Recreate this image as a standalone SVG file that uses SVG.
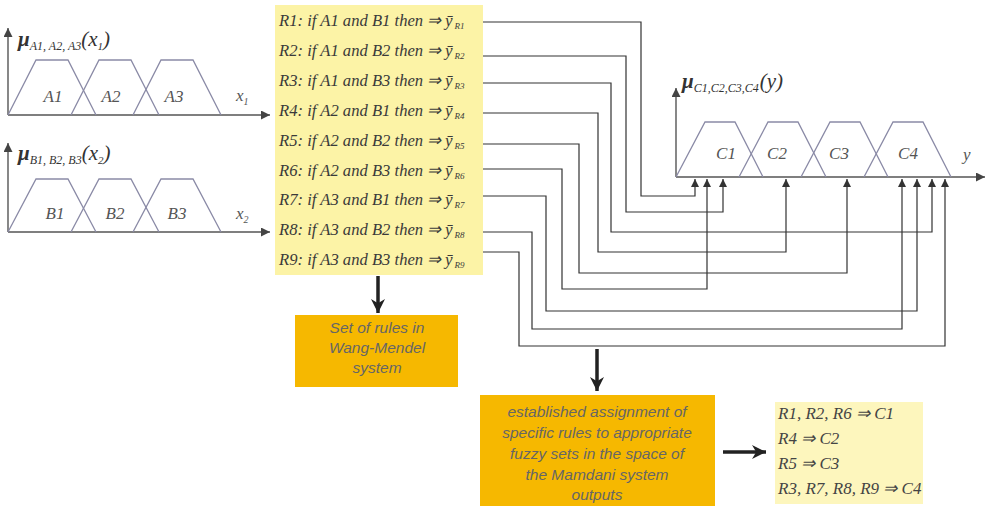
<svg xmlns="http://www.w3.org/2000/svg" width="987" height="506" viewBox="0 0 987 506">
<defs>
<style>
.ax{stroke:#555;stroke-width:1.4;fill:none}
.tr{stroke:#8a8aa6;stroke-width:1.3;fill:none}
.lbl{font-family:"Liberation Serif",serif;font-style:italic;font-size:17px;fill:#555}
.rule{font-family:"Liberation Serif",serif;font-style:italic;font-size:17px;fill:#3a3a3a}
.sub{font-size:9px}
.con{stroke:#333;stroke-width:1.2;fill:none}
.box{font-family:"Liberation Sans",Arial,sans-serif;font-style:italic;font-size:15.5px;fill:#666;text-anchor:middle}
.res{font-family:"Liberation Serif",serif;font-style:italic;font-size:17px;fill:#444}
.big{stroke:#222;stroke-width:3.5;fill:none}
.ttl{font-family:"Liberation Serif",serif;font-style:italic;fill:#333}
</style>
<marker id="ah" viewBox="0 0 10 10" refX="10" refY="5" markerWidth="8" markerHeight="8" markerUnits="userSpaceOnUse" orient="auto">
<path d="M0,0 L10,5 L0,10 z" fill="#333"/>
</marker>
<marker id="axh" viewBox="0 0 10 10" refX="10" refY="5" markerWidth="11" markerHeight="9" markerUnits="userSpaceOnUse" orient="auto">
<path d="M0,0 L10,5 L0,10 z" fill="#444"/>
</marker>
<marker id="bigh" viewBox="0 0 10 10" refX="10" refY="5" markerWidth="14" markerHeight="18" markerUnits="userSpaceOnUse" orient="auto">
<path d="M0,0 L10,5 L0,10 L3,5 z" fill="#222"/>
</marker>
</defs>
<rect width="987" height="506" fill="#fff"/>

<g id="input-a">
<path class="ax" d="M8,115 V28" marker-end="url(#axh)"/>
<path class="ax" d="M8,115 H270" marker-end="url(#axh)"/>
<path class="tr" d="M8,115 L36,60 L68,60 L96,115"/>
<path class="tr" d="M71,115 L99,60 L131,60 L159,115"/>
<path class="tr" d="M133,115 L161,60 L193,60 L221,115"/>
<text class="lbl" x="53" y="102" text-anchor="middle">A1</text>
<text class="lbl" x="111" y="102" text-anchor="middle">A2</text>
<text class="lbl" x="174" y="102" text-anchor="middle">A3</text>
<text class="lbl" x="236" y="101">x<tspan font-size="10" dy="4">1</tspan></text>
<text class="ttl" x="18" y="46"><tspan font-weight="bold" font-size="21">μ</tspan><tspan font-size="12" dy="4">A1, A2, A3</tspan><tspan font-size="21" dy="-4">(x</tspan><tspan font-size="11" dy="4">1</tspan><tspan font-size="21" dy="-4">)</tspan></text>
</g>

<g id="input-b">
<path class="ax" d="M8,232 V143" marker-end="url(#axh)"/>
<path class="ax" d="M8,232 H270" marker-end="url(#axh)"/>
<path class="tr" d="M8,232 L36,179 L68,179 L96,232"/>
<path class="tr" d="M71,232 L99,179 L131,179 L159,232"/>
<path class="tr" d="M133,232 L161,179 L193,179 L221,232"/>
<text class="lbl" x="55" y="219" text-anchor="middle">B1</text>
<text class="lbl" x="115" y="219" text-anchor="middle">B2</text>
<text class="lbl" x="177" y="219" text-anchor="middle">B3</text>
<text class="lbl" x="236" y="219">x<tspan font-size="10" dy="4">2</tspan></text>
<text class="ttl" x="18" y="160"><tspan font-weight="bold" font-size="21">μ</tspan><tspan font-size="12" dy="4">B1, B2, B3</tspan><tspan font-size="21" dy="-4">(x</tspan><tspan font-size="11" dy="4">2</tspan><tspan font-size="21" dy="-4">)</tspan></text>
</g>

<g id="rules">
<rect x="275" y="5" width="208" height="270" fill="#fcf3a6"/>
<text class="rule" x="279" y="26" textLength="162" lengthAdjust="spacingAndGlyphs">R1: if A1 and B1 then ⇒</text>
<text class="rule" x="445" y="26">ȳ<tspan class="sub" dx="2" dy="3">R1</tspan></text>
<text class="rule" x="279" y="56" textLength="162" lengthAdjust="spacingAndGlyphs">R2: if A1 and B2 then ⇒</text>
<text class="rule" x="445" y="56">ȳ<tspan class="sub" dx="2" dy="3">R2</tspan></text>
<text class="rule" x="279" y="86" textLength="162" lengthAdjust="spacingAndGlyphs">R3: if A1 and B3 then ⇒</text>
<text class="rule" x="445" y="86">ȳ<tspan class="sub" dx="2" dy="3">R3</tspan></text>
<text class="rule" x="279" y="116" textLength="162" lengthAdjust="spacingAndGlyphs">R4: if A2 and B1 then ⇒</text>
<text class="rule" x="445" y="116">ȳ<tspan class="sub" dx="2" dy="3">R4</tspan></text>
<text class="rule" x="279" y="146" textLength="162" lengthAdjust="spacingAndGlyphs">R5: if A2 and B2 then ⇒</text>
<text class="rule" x="445" y="146">ȳ<tspan class="sub" dx="2" dy="3">R5</tspan></text>
<text class="rule" x="279" y="176" textLength="162" lengthAdjust="spacingAndGlyphs">R6: if A2 and B3 then ⇒</text>
<text class="rule" x="445" y="176">ȳ<tspan class="sub" dx="2" dy="3">R6</tspan></text>
<text class="rule" x="279" y="205" textLength="162" lengthAdjust="spacingAndGlyphs">R7: if A3 and B1 then ⇒</text>
<text class="rule" x="445" y="205">ȳ<tspan class="sub" dx="2" dy="3">R7</tspan></text>
<text class="rule" x="279" y="235" textLength="162" lengthAdjust="spacingAndGlyphs">R8: if A3 and B2 then ⇒</text>
<text class="rule" x="445" y="235">ȳ<tspan class="sub" dx="2" dy="3">R8</tspan></text>
<text class="rule" x="279" y="265" textLength="162" lengthAdjust="spacingAndGlyphs">R9: if A3 and B3 then ⇒</text>
<text class="rule" x="445" y="265">ȳ<tspan class="sub" dx="2" dy="3">R9</tspan></text>
</g>

<g id="output-c">
<path class="ax" d="M676,177 V88" marker-end="url(#axh)"/>
<path class="ax" d="M676,177 H985" marker-end="url(#axh)"/>
<path class="tr" d="M676,177 L705,122 L735,122 L763,177"/>
<path class="tr" d="M739,177 L768,122 L798,122 L826,177"/>
<path class="tr" d="M801,177 L830,122 L860,122 L888,177"/>
<path class="tr" d="M864,177 L893,122 L923,122 L951,177"/>
<text class="lbl" x="726" y="159" text-anchor="middle">C1</text>
<text class="lbl" x="777" y="159" text-anchor="middle">C2</text>
<text class="lbl" x="839" y="159" text-anchor="middle">C3</text>
<text class="lbl" x="908" y="159" text-anchor="middle">C4</text>
<text class="lbl" x="963" y="160">y</text>
<text class="ttl" x="682" y="88"><tspan font-weight="bold" font-size="21">μ</tspan><tspan font-size="12" dy="4">C1,C2,C3,C4</tspan><tspan font-size="21" dy="-4" dx="1">(y)</tspan></text>
</g>

<g id="connectors">
<path class="con" d="M483,22 H641 V196 H695 V179" marker-end="url(#ah)"/>
<path class="con" d="M483,56 H626 V212 H723 V179" marker-end="url(#ah)"/>
<path class="con" d="M483,83 H611 V232 H932 V179" marker-end="url(#ah)"/>
<path class="con" d="M483,113 H598 V252 H786 V179" marker-end="url(#ah)"/>
<path class="con" d="M483,144 H579 V273 H847 V179" marker-end="url(#ah)"/>
<path class="con" d="M483,169 H562 V289 H707 V179" marker-end="url(#ah)"/>
<path class="con" d="M483,196 H546 V311 H917 V179" marker-end="url(#ah)"/>
<path class="con" d="M483,232 H532 V329 H902 V179" marker-end="url(#ah)"/>
<path class="con" d="M483,252 H519 V346 H945 V179" marker-end="url(#ah)"/>
<path class="big" d="M378,276 V313" marker-end="url(#bigh)"/>
<path class="big" d="M597,349 V391" marker-end="url(#bigh)"/>
<path class="big" d="M723,452 H766" marker-end="url(#bigh)"/>
</g>

<g id="box-wm">
<rect x="295" y="315" width="163" height="72" fill="#f6b800"/>
<text class="box" x="377" y="333">Set of rules in</text>
<text class="box" x="377" y="353">Wang-Mendel</text>
<text class="box" x="377" y="373">system</text>
</g>

<g id="box-assign">
<rect x="480" y="395" width="235" height="111" fill="#f6b800"/>
<text class="box" x="597" y="417">established assignment of</text>
<text class="box" x="597" y="438">specific rules to appropriate</text>
<text class="box" x="597" y="459">fuzzy sets in the space of</text>
<text class="box" x="597" y="480">the Mamdani system</text>
<text class="box" x="597" y="500">outputs</text>
</g>

<g id="result">
<rect x="775" y="402" width="148" height="102" fill="#fdf6bd"/>
<text class="res" x="778" y="419">R1, R2, R6 ⇒ C1</text>
<text class="res" x="778" y="444">R4 ⇒ C2</text>
<text class="res" x="778" y="469">R5 ⇒ C3</text>
<text class="res" x="778" y="494">R3, R7, R8, R9 ⇒ C4</text>
</g>
</svg>
